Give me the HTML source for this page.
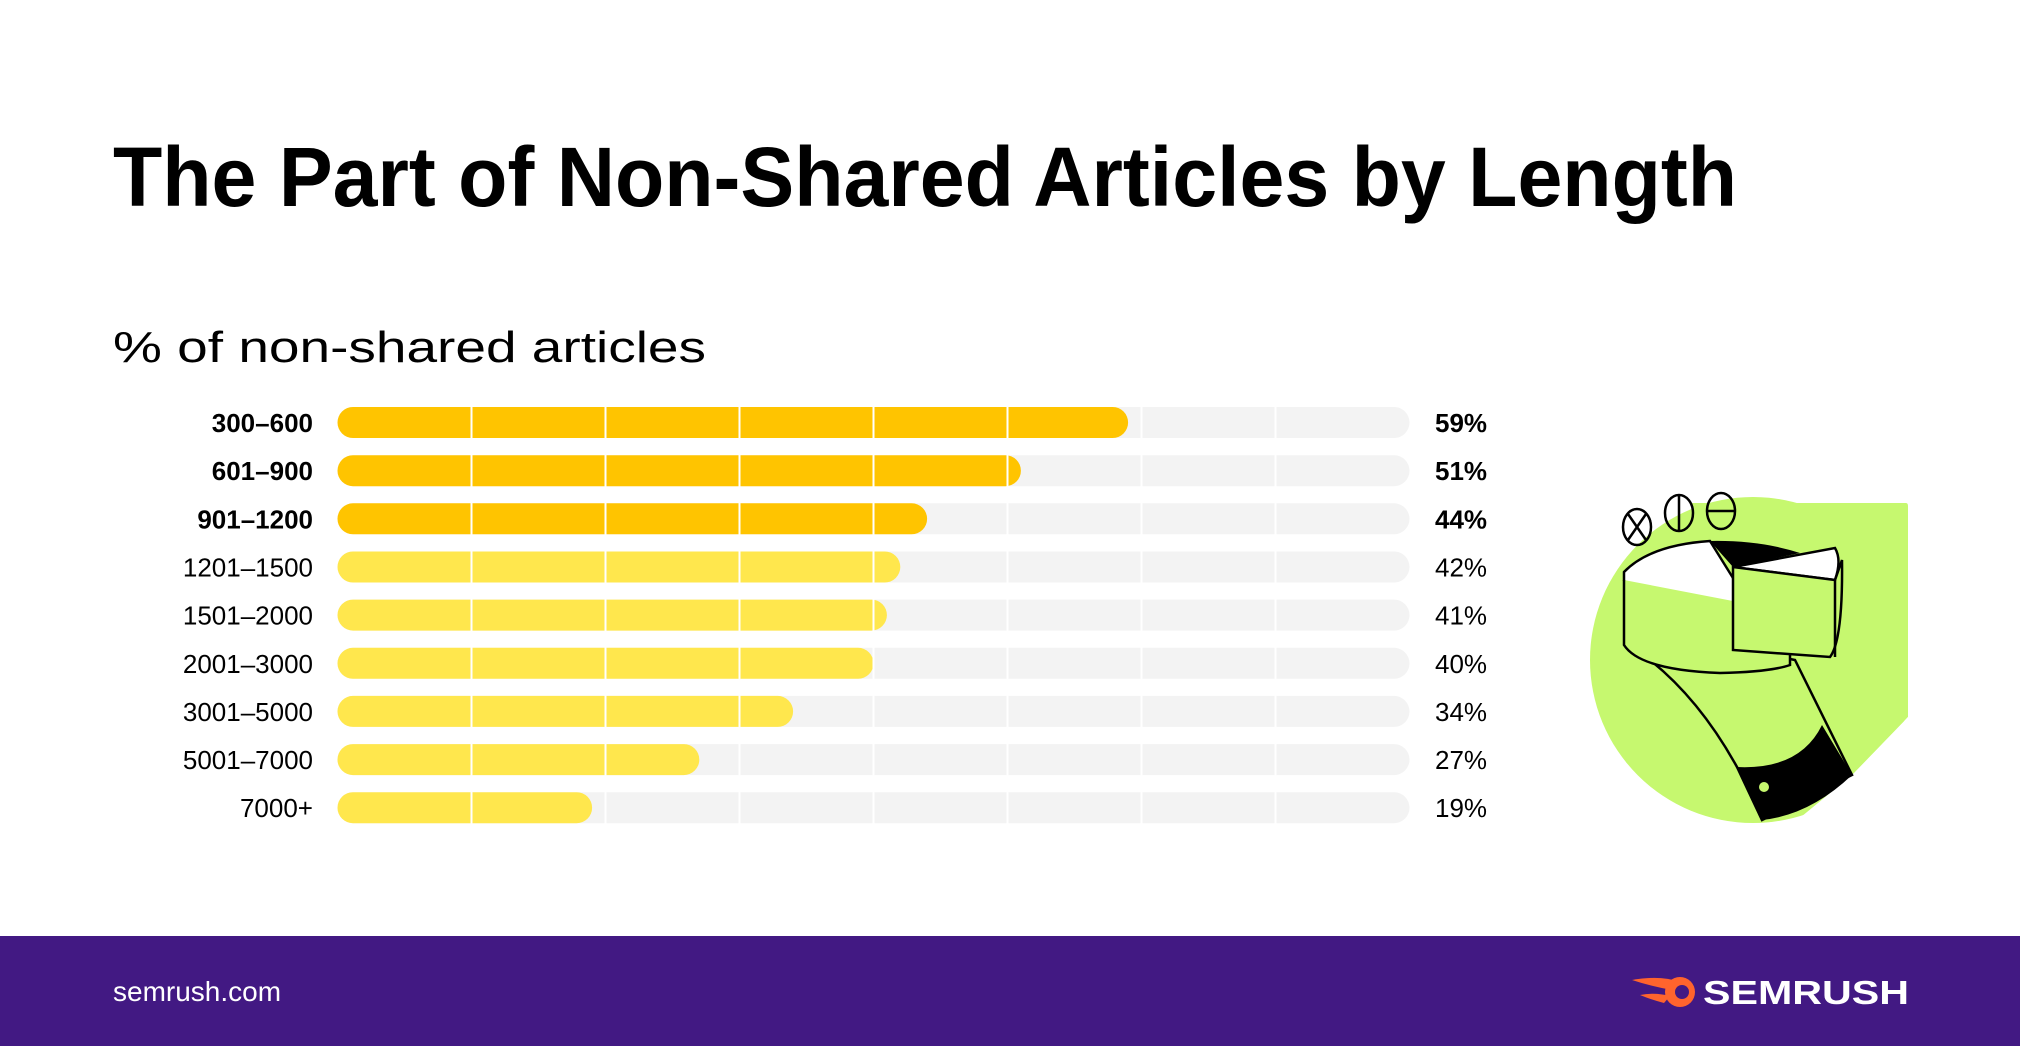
<!DOCTYPE html>
<html><head><meta charset="utf-8"><style>html,body{margin:0;padding:0;background:#fff}svg{display:block}</style></head>
<body>
<svg width="2020" height="1046" viewBox="0 0 2020 1046" xmlns="http://www.w3.org/2000/svg" font-family="Liberation Sans, sans-serif">
<defs>
<clipPath id="gc"><path d="M1500 400 H1908 V717 L1852 775 L1700 900 H1500 Z"/></clipPath>
</defs>
<rect width="2020" height="1046" fill="#fff"/>
<text x="113" y="206" font-size="84" font-weight="bold" fill="#000" textLength="1624" lengthAdjust="spacingAndGlyphs">The Part of Non-Shared Articles by Length</text>
<text x="113" y="362" font-size="44" fill="#000" textLength="593" lengthAdjust="spacingAndGlyphs">% of non-shared articles</text>
<g fill="#F3F3F3">
<rect x="337.5" y="407" width="1072" height="31" rx="15.5"/>
<rect x="337.5" y="455.2" width="1072" height="31" rx="15.5"/>
<rect x="337.5" y="503.3" width="1072" height="31" rx="15.5"/>
<rect x="337.5" y="551.5" width="1072" height="31" rx="15.5"/>
<rect x="337.5" y="599.6" width="1072" height="31" rx="15.5"/>
<rect x="337.5" y="647.8" width="1072" height="31" rx="15.5"/>
<rect x="337.5" y="695.9" width="1072" height="31" rx="15.5"/>
<rect x="337.5" y="744.1" width="1072" height="31" rx="15.5"/>
<rect x="337.5" y="792.2" width="1072" height="31" rx="15.5"/>
</g>
<g fill="#FFC400">
<rect x="337.5" y="407" width="790.6" height="31" rx="15.5"/>
<rect x="337.5" y="455.2" width="683.4" height="31" rx="15.5"/>
<rect x="337.5" y="503.3" width="589.6" height="31" rx="15.5"/>
</g>
<g fill="#FFE74D">
<rect x="337.5" y="551.5" width="562.8" height="31" rx="15.5"/>
<rect x="337.5" y="599.6" width="549.4" height="31" rx="15.5"/>
<rect x="337.5" y="647.8" width="536" height="31" rx="15.5"/>
<rect x="337.5" y="695.9" width="455.6" height="31" rx="15.5"/>
<rect x="337.5" y="744.1" width="361.8" height="31" rx="15.5"/>
<rect x="337.5" y="792.2" width="254.6" height="31" rx="15.5"/>
</g>
<g stroke="#fff" stroke-width="2">
<line x1="471.5" y1="400" x2="471.5" y2="830"/>
<line x1="605.5" y1="400" x2="605.5" y2="830"/>
<line x1="739.5" y1="400" x2="739.5" y2="830"/>
<line x1="873.5" y1="400" x2="873.5" y2="830"/>
<line x1="1007.5" y1="400" x2="1007.5" y2="830"/>
<line x1="1141.5" y1="400" x2="1141.5" y2="830"/>
<line x1="1275.5" y1="400" x2="1275.5" y2="830"/>
</g>
<g font-size="26" fill="#000" text-anchor="end">
<text x="313" y="432" font-weight="bold">300–600</text>
<text x="313" y="480.2" font-weight="bold">601–900</text>
<text x="313" y="528.3" font-weight="bold">901–1200</text>
<text x="313" y="576.5">1201–1500</text>
<text x="313" y="624.6">1501–2000</text>
<text x="313" y="672.8">2001–3000</text>
<text x="313" y="720.9">3001–5000</text>
<text x="313" y="769.1">5001–7000</text>
<text x="313" y="817.2">7000+</text>
</g>
<g font-size="26" fill="#000">
<text x="1435" y="432" font-weight="bold">59%</text>
<text x="1435" y="480.2" font-weight="bold">51%</text>
<text x="1435" y="528.3" font-weight="bold">44%</text>
<text x="1435" y="576.5">42%</text>
<text x="1435" y="624.6">41%</text>
<text x="1435" y="672.8">40%</text>
<text x="1435" y="720.9">34%</text>
<text x="1435" y="769.1">27%</text>
<text x="1435" y="817.2">19%</text>
</g>
<g>
<g clip-path="url(#gc)">
<path d="M1690 503 H1906 Q1908 503 1908 506 V717 L1852 775 Z" fill="#C6F86F"/>
<circle cx="1753" cy="660" r="163" fill="#C6F86F"/>
</g>
<g fill="none" stroke="#000" stroke-width="2.5">
<ellipse cx="1637" cy="527" rx="14" ry="18"/>
<path d="M1628 514 L1646 540 M1646 514 L1628 540"/>
<ellipse cx="1679" cy="513" rx="14" ry="18"/>
<path d="M1679 495 V531"/>
<ellipse cx="1721" cy="511" rx="14" ry="18"/>
<path d="M1707 511 H1735"/>
</g>
<path d="M1650 660 Q1660 640 1720 645 L1795 660 L1852 775 L1762 820 L1737 767 Q1700 700 1650 660 Z" fill="#C6F86F" stroke="#000" stroke-width="2.5"/>
<path d="M1737 767 Q1800 770 1822 725 L1852 775 Q1810 815 1762 820 Z" fill="#000"/>
<circle cx="1764" cy="787" r="5" fill="#C6F86F"/>
<path d="M1624 572 Q1650 545 1710 541 L1733 578 L1790 610 Q1760 625 1690 622 Q1630 610 1624 580 Z" fill="#fff" stroke="#000" stroke-width="2.5"/>
<path d="M1624 580 V645 Q1640 670 1720 673 Q1770 672 1790 665 V612" fill="#C6F86F" stroke="#000" stroke-width="2.5"/>
<path d="M1710 541 Q1760 540 1800 553 L1733 567 Z" fill="#000"/>
<path d="M1733 567 L1835 548 Q1842 560 1835 580 L1733 567 Z" fill="#fff" stroke="#000" stroke-width="2.5"/>
<path d="M1733 567 V650 L1830 657 Q1843 640 1842 560 L1835 580 Z" fill="#C6F86F" stroke="#000" stroke-width="2.5"/>
<path d="M1835 580 V657" stroke="#000" stroke-width="2.5"/>
</g>
<rect x="0" y="936" width="2020" height="110" fill="#421983"/>
<text x="113" y="1001" font-size="28" fill="#fff">semrush.com</text>
<g>
<path d="M1632 980 Q1660 975 1680 982 L1672 990 Q1650 986 1632 980 Z" fill="#FF642D"/>
<path d="M1640 995 Q1655 992 1670 996 L1664 1003 Q1652 1000 1640 995 Z" fill="#FF642D"/>
<circle cx="1680" cy="992" r="15" fill="#FF642D"/>
<circle cx="1682" cy="992" r="7" fill="#421983"/>
<text x="1703" y="1004" font-size="33" font-weight="bold" fill="#fff" textLength="206" lengthAdjust="spacingAndGlyphs">SEMRUSH</text>
</g>
</svg>
</body></html>
